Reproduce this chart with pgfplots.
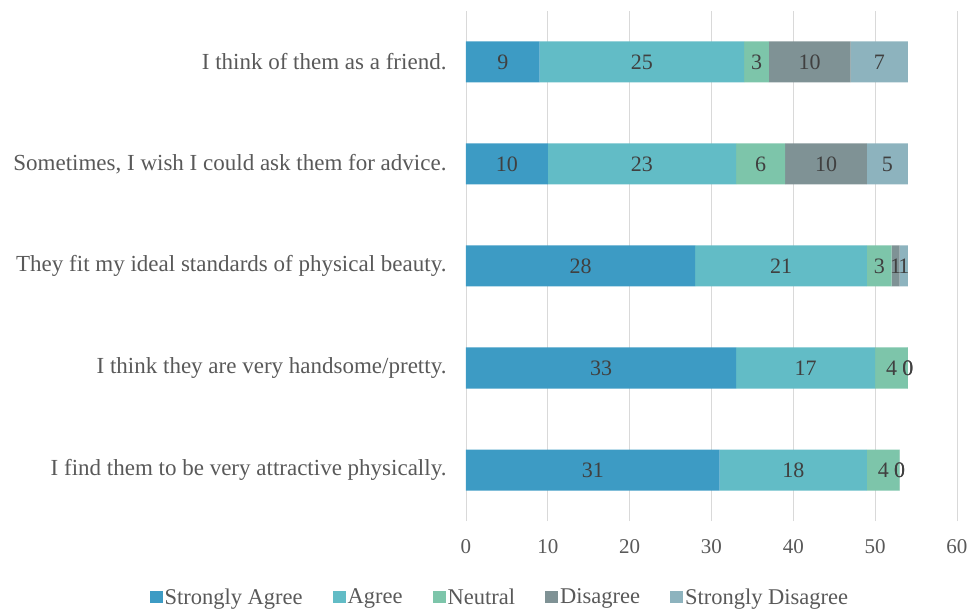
\documentclass[border=0pt]{standalone}
\usepackage{pgfplots}
\pgfplotsset{compat=1.18}
\usepackage{pgfplotstable}
\usepackage{fontspec}
\setmainfont{Liberation Serif}
\definecolor{cSA}{HTML}{3D9BC4}
\definecolor{cA}{HTML}{62BCC6}
\definecolor{cN}{HTML}{7DC5AA}
\definecolor{cD}{HTML}{7F9295}
\definecolor{cSD}{HTML}{8DB3BE}
\definecolor{gridgray}{HTML}{D9D9D9}
\definecolor{labelgray}{HTML}{595959}
\definecolor{valgray}{HTML}{404040}
\pgfplotstableread{
y sa a n d sd
4 9 25 3 10 7
3 10 23 6 10 5
2 28 21 3 1 1
1 33 17 4 0 0
0 31 18 4 0 0
}\datatable
\begin{document}
\begin{tikzpicture}
\useasboundingbox (-466bp,-89bp) rectangle (504bp,521bp);
\begin{axis}[
  at={(0,0)}, anchor=south west,
  scale only axis, width=491bp, height=510bp,
  xbar stacked, bar width=41bp, stacked ignores zero=false,
  xmin=0, xmax=60, xtick={0,10,...,60},
  ymin=-0.5, ymax=4.5, ytick={0,1,2,3,4},
  yticklabels={I find them to be very attractive physically., I think they are very handsome/pretty., They fit my ideal standards of physical beauty., {Sometimes, I wish I could ask them for advice.}, I think of them as a friend.},
  xmajorgrids, major grid style={draw=gridgray, line width=0.9bp},
  axis line style={draw=none}, tick style={draw=none},
  /pgf/number format/assume math mode=true,
  xticklabel style={font=\fontsize{21bp}{21bp}\selectfont, text=labelgray, yshift=-15bp},
  yticklabel style={font=\fontsize{23bp}{23bp}\selectfont, text=labelgray, xshift=-16bp},
  point meta=explicit symbolic,
  nodes near coords={\pgfplotspointmeta},
  every node near coord/.append style={anchor=center, font=\fontsize{22bp}{22bp}\selectfont, text=valgray},
  legend columns=5,
  legend style={draw=none, at={(0.069,-0.149)}, anchor=center, font=\fontsize{22.5bp}{22.5bp}\selectfont, text=labelgray, /tikz/every even column/.append style={column sep=28bp}},
  legend image code/.code={\fill[#1] (0bp,-6bp) rectangle (13bp,6bp);},
]
\addplot[fill=cSA, draw=none] table[x=sa, y=y, meta=sa] {\datatable};
\addlegendentry{Strongly Agree}
\addplot[fill=cA, draw=none] table[x=a, y=y, meta=a] {\datatable};
\addlegendentry{Agree}
\addplot[fill=cN, draw=none] table[x=n, y=y, meta=n] {\datatable};
\addlegendentry{Neutral}
\addplot[fill=cD, draw=none] table[x=d, y=y, meta=d] {\datatable};
\addlegendentry{Disagree}
\addplot[fill=cSD, draw=none] table[x=sd, y=y, meta=sd] {\datatable};
\addlegendentry{Strongly Disagree}
\end{axis}
\end{tikzpicture}
\end{document}
